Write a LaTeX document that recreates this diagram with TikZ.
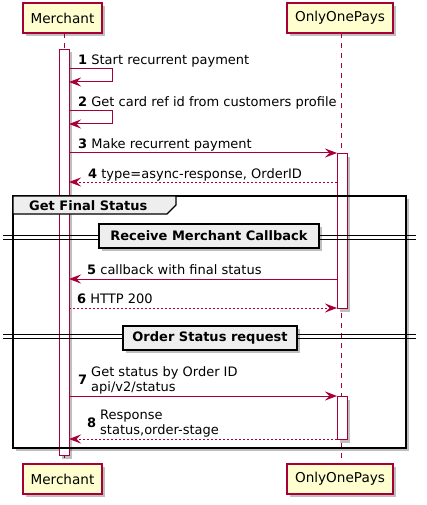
\documentclass[tikz,border=0pt]{standalone}
\usepackage{fontspec}
\setmainfont{DejaVu Sans}
\usetikzlibrary{arrows.meta,shadows}
\definecolor{pline}{HTML}{A80036}
\definecolor{pfill}{HTML}{FEFECE}
\definecolor{gfill}{HTML}{EEEEEE}
\tikzset{
  pshadow/.style={drop shadow={shadow xshift=3pt,shadow yshift=-3pt,fill=black,opacity=0.25}},
  participant/.style={draw=pline,fill=pfill,line width=1.2pt,minimum height=30pt,inner sep=0pt,
    font=\fontsize{13.6}{16}\selectfont,pshadow},
  lifeline/.style={draw=pline,line width=0.8pt,dash pattern=on 5pt off 5pt},
  actbar/.style={draw=pline,fill=white,line width=1pt,minimum width=10pt,inner sep=0pt,anchor=north,pshadow},
  msg/.style={draw=pline,line width=1pt,-{Stealth[length=12pt,width=9pt,inset=4.5pt]}},
  reply/.style={msg,dash pattern=on 2pt off 2pt},
  msgtxt/.style={anchor=base west,inner sep=0pt,font=\fontsize{13}{15}\selectfont},
  divbox/.style={draw=black,fill=gfill,line width=1.5pt,inner sep=0pt,minimum height=24pt,
    font=\bfseries\fontsize{13}{15}\selectfont,pshadow},
  divline/.style={draw=black,line width=1pt},
}
\begin{document}
\begin{tikzpicture}[x=1pt,y=-1pt]
\useasboundingbox (0,0) rectangle (427,505);
% group frame (background)
\fill[black,opacity=0.25] (16,199) rectangle (409,451);
\fill[white] (13,196) rectangle (406,448);
% participants
\node[participant,minimum width=79pt] (m) at (62.5,18) {Merchant};
\node[participant,minimum width=106pt] (o) at (340,18) {OnlyOnePays};
\node[participant,minimum width=79pt] (mb) at (62.5,479) {Merchant};
\node[participant,minimum width=106pt] (ob) at (340,479) {OnlyOnePays};
\coordinate (mlt) at (64,33); \coordinate (mlb) at (64,464);
\coordinate (olt) at (341.5,33); \coordinate (olb) at (341.5,464);
\draw[lifeline] (mlt) -- (mlb);
\draw[lifeline] (olt) -- (olb);
% activation bars
\node[actbar,minimum height=406pt] (ma) at (64,49) {};
\node[actbar,minimum height=155pt] (oa1) at (342,153) {};
\node[actbar,minimum height=43pt] (oa2) at (342,396) {};
% group frame outline and header
\draw[black,line width=1.8pt] (13,196) rectangle (406,448);
\draw[black,line width=1.2pt,fill=gfill] (13,196) -- (176,196) -- (176,205) -- (167,214) -- (13,214) -- cycle;
\node[anchor=base west,inner sep=0pt,font=\bfseries\fontsize{13}{15}\selectfont] (gh) at (29,210) {Get Final Status};
% dividers
\draw[divline] (3,235) -- (416,235);
\draw[divline] (3,239) -- (416,239);
\node[divbox,minimum width=220pt] (d1) at (209,236) {Receive Merchant Callback};
\draw[divline] (3,334) -- (416,334);
\draw[divline] (3,338) -- (416,338);
\node[divbox,minimum width=174pt] (d2) at (210,338) {Order Status request};
% message 1
\coordinate (s1a) at (69,69); \coordinate (s1b) at (112,69);
\coordinate (s1c) at (112,82); \coordinate (s1d) at (69,82);
\draw[msg] (s1a) -- (s1b) -- (s1c) -- (s1d);
\node[msgtxt] (t1) at (78,65) {\textbf{1} Start recurrent payment};
% message 2
\coordinate (s2a) at (69,111); \coordinate (s2b) at (112,111);
\coordinate (s2c) at (112,124); \coordinate (s2d) at (69,124);
\draw[msg] (s2a) -- (s2b) -- (s2c) -- (s2d);
\node[msgtxt] (t2) at (78,107) {\textbf{2} Get card ref id from customers profile};
% message 3
\coordinate (a3) at (69,153); \coordinate (b3) at (337,153);
\draw[msg] (a3) -- (b3);
\node[msgtxt] (t3) at (78,149) {\textbf{3} Make recurrent payment};
% message 4
\coordinate (a4) at (337,182); \coordinate (b4) at (69,182);
\draw[reply] (a4) -- (b4);
\node[msgtxt] (t4) at (88,178) {\textbf{4} type=async-response, OrderID};
% message 5
\coordinate (a5) at (337,279); \coordinate (b5) at (69,279);
\draw[msg] (a5) -- (b5);
\node[msgtxt] (t5) at (87,274) {\textbf{5} callback with final status};
% message 6
\coordinate (a6) at (69,308); \coordinate (b6) at (337,308);
\draw[reply] (a6) -- (b6);
\node[msgtxt] (t6) at (77,303) {\textbf{6} HTTP 200};
% message 7
\coordinate (a7) at (69,396); \coordinate (b7) at (337,396);
\draw[msg] (a7) -- (b7);
\node[msgtxt] (n7) at (78,384) {\textbf{7}};
\node[msgtxt] (t7a) at (91,376) {Get status by Order ID};
\node[msgtxt] (t7b) at (91,391) {api/v2/status};
% message 8
\coordinate (a8) at (337,439); \coordinate (b8) at (69,439);
\draw[reply] (a8) -- (b8);
\node[msgtxt] (n8) at (87,427) {\textbf{8}};
\node[msgtxt] (t8a) at (100,419) {Response};
\node[msgtxt] (t8b) at (100,434) {status,order-stage};
\end{tikzpicture}
\end{document}
